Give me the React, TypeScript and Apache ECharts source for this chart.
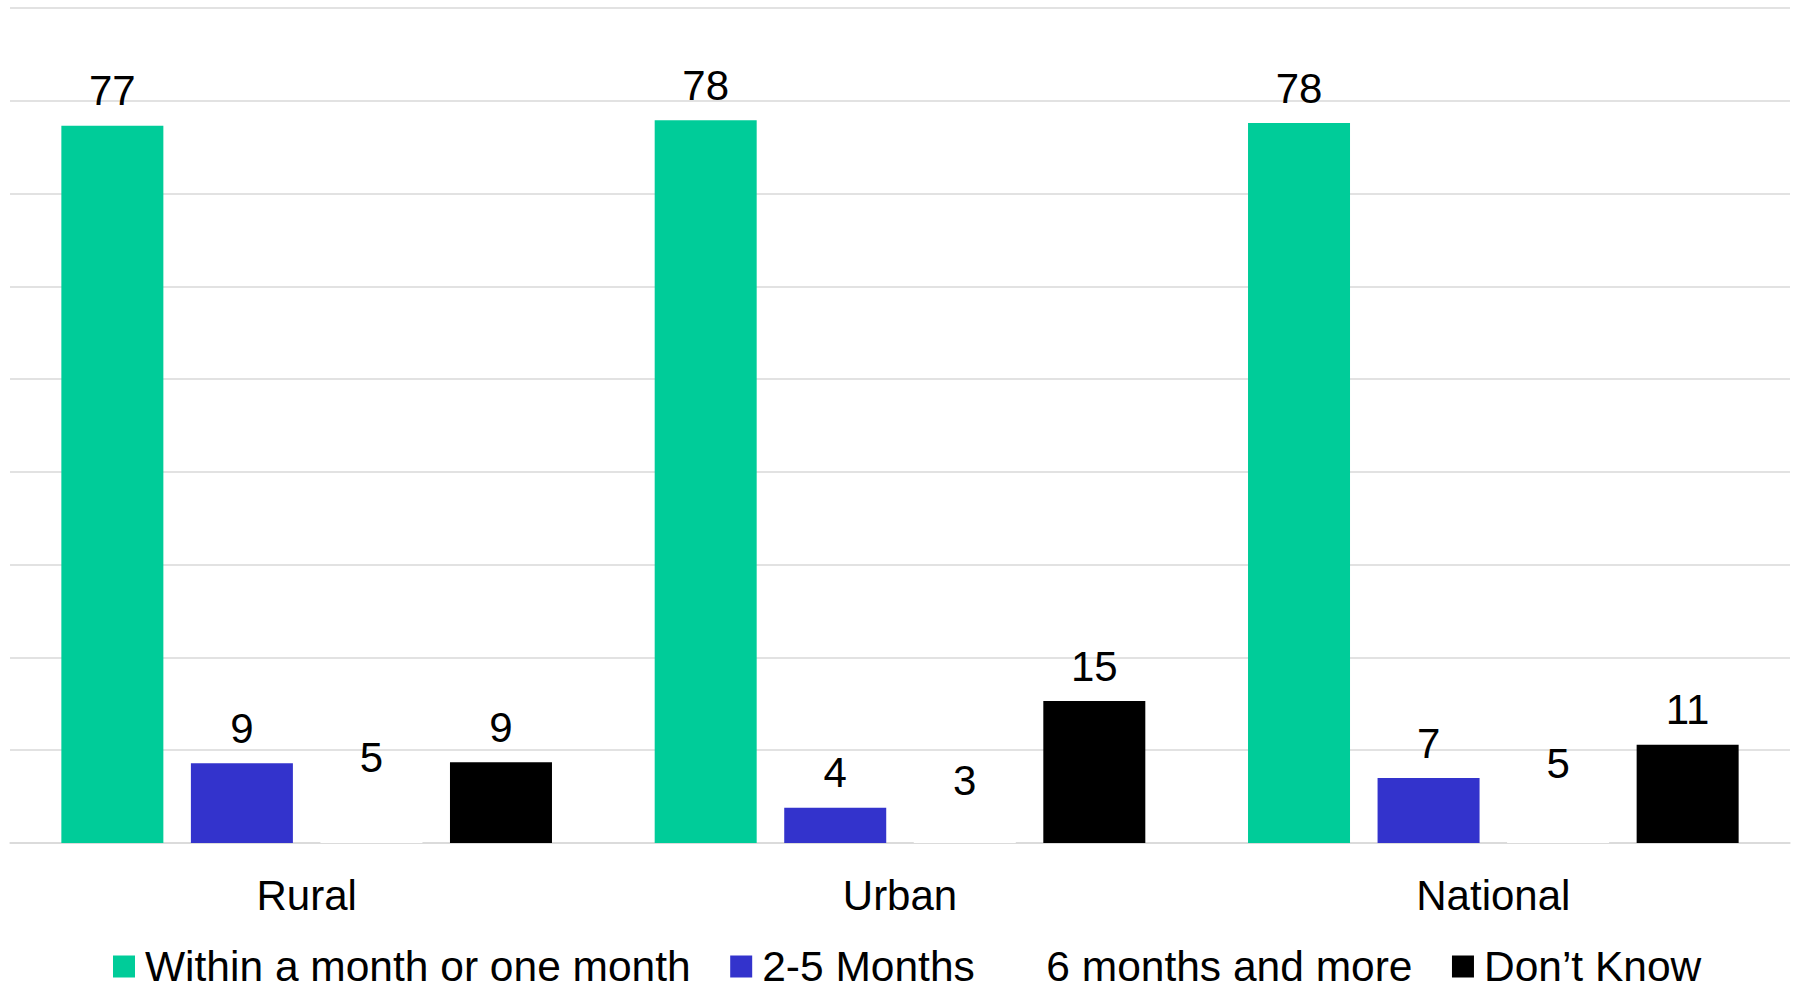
import React, { useEffect, useRef } from "react";
import * as echarts from "echarts";

const categories = ["Rural", "Urban", "National"];
const seriesNames = ["Within a month or one month", "2-5 Months", "6 months and more", "Don’t Know"];
const withinMonth = [77.3, 77.9, 77.6];
const twoToFive = [8.6, 3.8, 7.0];
const sixPlus = [5.4, 3.0, 4.8];
const dontKnow = [8.7, 15.3, 10.6];
const seriesColors = ["#00CC99", "#3333CC", "#FFFFFF", "#000000"];
const yMin = 0;
const yMax = 90;
const yInterval = 10;

const FONT = "'Liberation Sans', Arial, sans-serif";

export default function App() {
  const ref = useRef<HTMLDivElement>(null);
  useEffect(() => {
    if (!ref.current) return;
    const chart = echarts.init(ref.current, undefined, { renderer: "svg" });
    const values = [withinMonth, twoToFive, sixPlus, dontKnow];
    chart.setOption({
      animation: false,
      backgroundColor: "#ffffff",
      grid: { left: 10, right: 4, top: 8, bottom: 143, containLabel: false },
      legend: {
        left: 108,
        top: 940,
        itemWidth: 22,
        itemHeight: 22,
        itemGap: 39.5,
        icon: "rect",
        textStyle: {
          fontFamily: FONT,
          fontSize: 42.5,
          color: "#000",
          lineHeight: 42,
          padding: [0, 0, 0, 5],
        },
        data: seriesNames,
      },
      xAxis: {
        type: "category",
        data: categories,
        axisLine: { show: true, lineStyle: { color: "#d9d9d9", width: 1.5 } },
        axisTick: { show: false },
        axisLabel: { fontFamily: FONT, fontSize: 42, color: "#000", margin: 31 },
      },
      yAxis: {
        type: "value",
        min: yMin,
        max: yMax,
        interval: yInterval,
        axisLine: { show: false },
        axisTick: { show: false },
        axisLabel: { show: false },
        splitLine: { show: true, lineStyle: { color: "#d9d9d9", width: 1.5 } },
      },
      series: seriesNames.map((name, i) => ({
        name,
        type: "bar",
        data: values[i],
        barWidth: 102,
        barGap: "27%",
        itemStyle: { color: seriesColors[i] },
        label: {
          show: true,
          position: "top",
          distance: 14,
          fontFamily: FONT,
          fontSize: 42,
          color: "#000",
          formatter: (p: any) => String(Math.round(p.value)),
        },
      })),
    });
    return () => chart.dispose();
  }, []);
  return (
    <div
      ref={ref}
      style={{ position: "fixed", left: 0, top: 0, width: 1794, height: 986 }}
    />
  );
}
